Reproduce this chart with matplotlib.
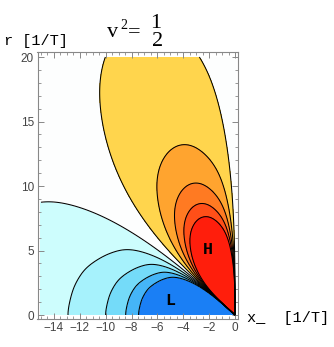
import numpy as np
import matplotlib
matplotlib.use('Agg')
import matplotlib.pyplot as plt
from matplotlib.ticker import MultipleLocator

# angular profile of the field (angle from the -x axis, deg) and its strength,
# read off where the contour loops sit in the picture; field = g / rho^2
phi_deg = np.array([0, 10, 17, 25, 32, 37, 42, 47, 52, 56, 60, 64, 68, 72,
                    76, 80, 83, 85, 87, 88.5, 90], dtype=float)
g_vals = np.array([-252, -240, -222, -182, -142, -80, 0, 60, 120, 170, 220,
                   258, 283, 292, 278, 237, 195, 160, 95, 45, 0], dtype=float)

levels = [-4.5, -3.5, -2.5, -1.5, -0.5, 0.5, 1.5, 2.5, 3.5, 4.5]
band_colors = ['#1a7ff5', '#45b5f7', '#74dbf9', '#a6f2fc', '#cdfdfd', '#fdfefe',
               '#ffd54d', '#ffa42f', '#ff7a22', '#ff4f18', '#ff1e0c']

x_ticks = [-14, -12, -10, -8, -6, -4, -2, 0]
y_ticks = [0, 5, 10, 15, 20]

# smooth the profile (even mirror at 0 deg, odd mirror at 90 deg)
step = 0.1
pd = np.arange(0, 90 + step / 2, step)
gd = np.interp(pd, phi_deg, g_vals)
ext = np.concatenate([gd[:0:-1], gd, -gd[-2::-1]])
sig = 2.0 / step
kx = np.arange(-int(4 * sig), int(4 * sig) + 1)
kern = np.exp(-0.5 * (kx / sig) ** 2)
kern /= kern.sum()
gs = np.convolve(ext, kern, mode='same')[len(gd) - 1:2 * len(gd) - 1]

x = np.linspace(-15, 0, 761)
r = np.linspace(0, 20, 1001)
X, R = np.meshgrid(x, r)
rho2 = np.maximum(X**2 + R**2, 1e-6)
phi = np.degrees(np.arctan2(R, -X))
F = np.interp(phi, pd, gs) / rho2

fig = plt.figure(figsize=(3.34, 3.47), dpi=100)
ax = fig.add_axes([37.5/334, 1-319/347, 200.5/334, 267/347])
ax.contourf(X, R, F, levels=[-1e12] + levels + [1e12], colors=band_colors)
ax.contour(X, R, F, levels=levels, colors='k', linewidths=0.75,
           linestyles='solid')

ax.set_xlim(-15.27, 0.23)
ax.set_ylim(-0.31, 20.39)
ax.set_xticks(x_ticks)
ax.set_yticks(y_ticks)
ax.xaxis.set_minor_locator(MultipleLocator(0.5))
ax.yaxis.set_minor_locator(MultipleLocator(1))
ax.tick_params(which='both', direction='in', top=True, right=True,
               color='#888888', labelsize=8.5, labelcolor='#444444', pad=2.5)
ax.tick_params(which='major', length=4, width=0.7)
ax.tick_params(which='minor', length=2, width=0.6)
for lab in ax.get_xticklabels() + ax.get_yticklabels():
    lab.set_family('Liberation Sans')
for s in ax.spines.values():
    s.set_color('#888888')
    s.set_linewidth(0.8)

ax.text(-2.09, 5.04, 'H', family='Liberation Mono', weight='bold', fontsize=12,
        ha='center', va='center')
ax.text(-5.03, 1.09, 'L', family='Liberation Mono', weight='bold', fontsize=12,
        ha='center', va='center')

fig.text(4/334, 1-41/347, 'r [1/T]', family='Liberation Mono', fontsize=11,
         ha='left', va='center')
fig.text(247/334, 1-318/347, 'x_  [1/T]', family='Liberation Mono', fontsize=11,
         ha='left', va='center')

# title  v^2 = 1/2, set piece by piece
serif = 'Liberation Serif'
fig.text(107/334, 1-37/347, 'v', family=serif, fontsize=16, ha='left', va='baseline')
fig.text(120.5/334, 1-29/347, '2', family=serif, fontsize=10, ha='left', va='baseline')
fig.text(128/334, 1-37/347, '=', family=serif, fontsize=16, ha='left', va='baseline')
fig.text(156/334, 1-23/347, '1', family=serif, fontsize=16, ha='center', va='center')
fig.text(158/334, 1-42/347, '2', family=serif, fontsize=16, ha='center', va='center')

fig.savefig('out.png', dpi=100)
